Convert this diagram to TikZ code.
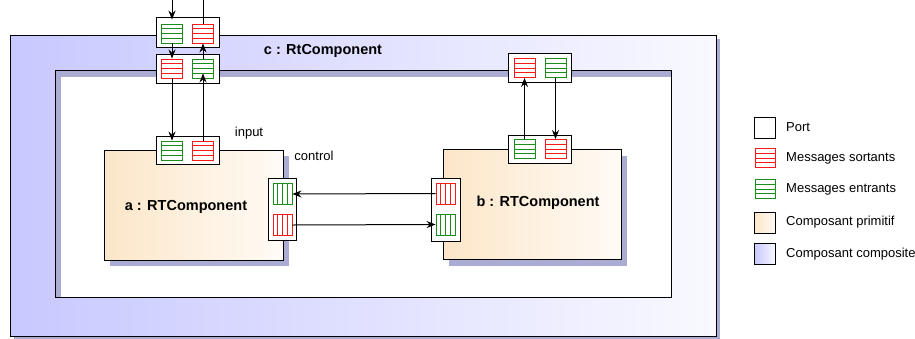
\documentclass[tikz,border=0pt]{standalone}
\usepackage{fontspec}
\setmainfont{Liberation Sans}
\usetikzlibrary{arrows.meta,shadows}
\definecolor{outred}{RGB}{250,25,25}
\definecolor{ingreen}{RGB}{25,140,25}
\definecolor{shadowblue}{RGB}{170,172,212}
\definecolor{compoleft}{RGB}{200,200,255}
\definecolor{comporight}{RGB}{249,249,255}
\definecolor{primleft}{RGB}{252,230,200}
\definecolor{primright}{RGB}{255,251,246}
\tikzset{
	port/.style={draw, fill=white, line width=1pt, inner sep=0pt,
		minimum width=63pt, minimum height=29pt},
	vport/.style={port, minimum width=28pt, minimum height=62pt},
	hqueue/.style={draw=#1, fill=white, line width=0.9pt, inner sep=0pt,
		minimum width=21pt, minimum height=19pt,
		path picture={\foreach \s in {4.75,9.5,14.25}
			\draw[#1, line width=0.8pt]
				([yshift=-\s pt]path picture bounding box.north west) --
				([yshift=-\s pt]path picture bounding box.north east);}},
	vqueue/.style={draw=#1, fill=white, line width=0.9pt, inner sep=0pt,
		minimum width=19pt, minimum height=21pt,
		path picture={\foreach \s in {4.75,9.5,14.25}
			\draw[#1, line width=0.8pt]
				([xshift=\s pt]path picture bounding box.north west) --
				([xshift=\s pt]path picture bounding box.south west);}},
	prim/.style={draw, line width=1pt, left color=primleft, right color=primright,
		inner sep=0pt, minimum width=179pt, minimum height=110pt,
		general shadow={shadow xshift=6pt, shadow yshift=-6pt, fill=shadowblue}},
	compo/.style={draw, line width=1pt, left color=compoleft, right color=comporight,
		inner sep=0pt, minimum width=706pt, minimum height=301pt,
		general shadow={shadow xshift=4pt, shadow yshift=-4pt, fill=shadowblue}},
	msg/.style={-{Stealth[length=9pt,width=7pt,inset=3pt]}, line width=1pt},
	wire/.style={line width=1pt},
	lbl/.style={font=\fontsize{13}{15}\selectfont, inner sep=0pt},
	title/.style={font=\fontsize{14.5}{17}\selectfont\bfseries, inner sep=0pt}
}

\begin{document}
\begin{tikzpicture}[x=1pt, y=-1pt]
	\useasboundingbox (0,0) rectangle (915,338);

	% composite c and its inside
	\node[compo] (c) at (363,185.5) {};
	\fill[white] (55,70) rectangle (671,297);
	\fill[shadowblue] (55,70) rectangle (61,297);
	\fill[shadowblue] (55,70) rectangle (671,77);
	\draw[line width=1pt] (55,70) rectangle (671,297);
	\node[title] (ctitle) at (323,51) {c : RtComponent};

	% primitive components
	\node[prim] (a) at (193.5,205) {};
	\node[prim, minimum width=178pt] (b) at (532,204.5) {};
	\node[title] (atitle) at (186,207) {a : RTComponent};
	\node[title] (btitle) at (538,203) {b : RTComponent};

	% ports of c
	\node[port, minimum height=30pt] (cpin) at (187.5,32) {};
	\node[hqueue=ingreen] (cg1) at (172,33.5) {};
	\node[hqueue=outred] (cr1) at (203,33.5) {};
	\node[port] (cpmid) at (187.5,68.5) {};
	\node[hqueue=outred] (cr2) at (172,68.5) {};
	\node[hqueue=ingreen] (cg2) at (203,68.5) {};
	\node[port] (cpright) at (540,67.5) {};
	\node[hqueue=outred] (cr3) at (524.5,68) {};
	\node[hqueue=ingreen] (cg3) at (555.5,68) {};

	% ports of a
	\node[port, minimum height=28pt] (ainput) at (187.5,150) {};
	\node[hqueue=ingreen] (ag) at (172,150.5) {};
	\node[hqueue=outred] (ar) at (203,150.5) {};
	\node[vport] (actrl) at (282,209.5) {};
	\node[vqueue=ingreen] (acg) at (282.5,194) {};
	\node[vqueue=outred] (acr) at (282.5,225) {};
	\node[lbl] (inputlbl) at (249,133) {input};
	\node[lbl] (controllbl) at (314,156) {control};

	% ports of b
	\node[port, minimum height=28pt] (binput) at (540,149) {};
	\node[hqueue=ingreen] (bg) at (524.5,149) {};
	\node[hqueue=outred] (br) at (555.5,149) {};
	\node[vport, minimum width=29pt, minimum height=63pt] (bctrl) at (445.5,209.5) {};
	\node[vqueue=outred] (bcr) at (445.5,193.5) {};
	\node[vqueue=ingreen] (bcg) at (445.5,224.5) {};

	% messages
	\coordinate (inL) at (172,0);
	\coordinate (inR) at (203,0);
	\draw[msg, shorten >=4pt] (inL) -- (cg1.north);
	\draw[wire] (inR) -- (cr1.north);
	\draw[msg] (cg1.south) -- (cr2.north);
	\draw[msg] (cg2.north) -- (cr1.south);
	\draw[msg] (cr2.south) -- (ag.north);
	\draw[msg, shorten >=-5pt] (ar.north) -- (cg2.south);
	\draw[msg] (bg.north) -- (cr3.south);
	\draw[msg] (cg3.south) -- (br.north);
	\draw[msg] (bcr.west) -- (acg.east);
	\draw[msg] (acr.east) -- (bcg.west);

	% legend
	\node[port, minimum width=21pt, minimum height=21pt] (lgport) at (765,128) {};
	\node[hqueue=outred, minimum width=20pt] (lgout) at (765,158) {};
	\node[hqueue=ingreen, minimum width=20pt] (lgin) at (765,189) {};
	\node[draw, line width=1pt, left color=primleft, right color=primright,
		minimum width=21pt, minimum height=21pt] (lgprim) at (765,222.5) {};
	\node[draw, line width=1pt, left color=compoleft, right color=comporight,
		minimum width=21pt, minimum height=21pt] (lgcompo) at (765,254) {};
	\node[lbl, anchor=west] (lgporttxt) at (786,127) {Port};
	\node[lbl, anchor=west] (lgouttxt) at (786,158) {Messages sortants};
	\node[lbl, anchor=west] (lgintxt) at (786,189) {Messages entrants};
	\node[lbl, anchor=west] (lgprimtxt) at (786,222) {Composant primitif};
	\node[lbl, anchor=west] (lgcompotxt) at (786,254) {Composant composite};
\end{tikzpicture}
\end{document}
